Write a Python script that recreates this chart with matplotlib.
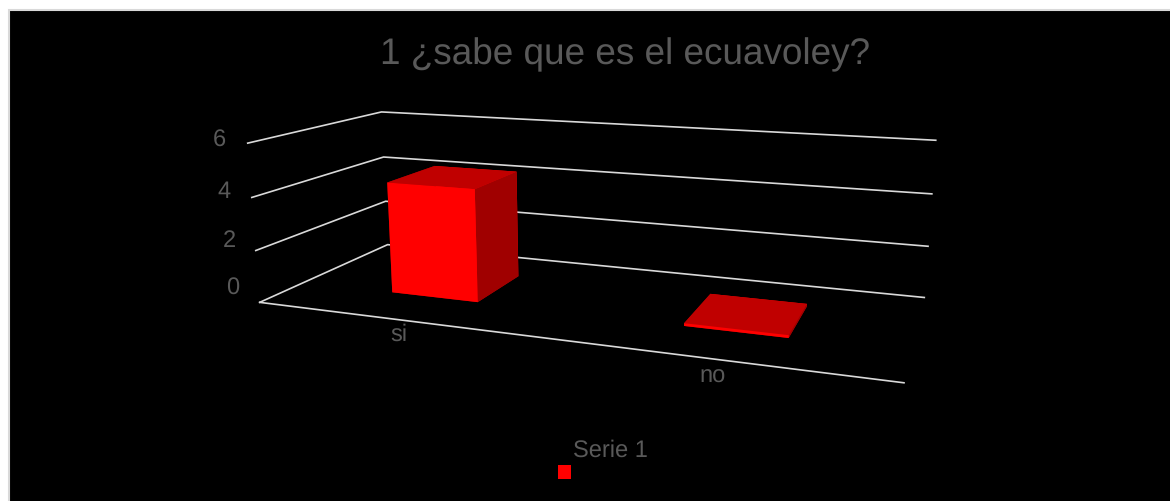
# -*- coding: utf-8 -*-
import matplotlib
matplotlib.use('Agg')
import matplotlib.pyplot as plt
from matplotlib.patches import Rectangle

title = '1 ¿sabe que es el ecuavoley?'
categories = ['si', 'no']
values = [4.3, 0]
series_name = 'Serie 1'
z_ticks = [0, 2, 4, 6]

W, H = 1170, 501
plt.rcParams['font.family'] = ['Liberation Sans', 'DejaVu Sans']
plt.rcParams['text.hinting'] = 'no_hinting'
TEXT = '#595959'
GRID = '#D9D9D9'
FACES = ['#C00000', '#C00000', '#FF0000', '#FF0000', '#A00000', '#A00000']  # bottom, top, front, back, left, right


def px(x, y):
    # picture pixels to figure fractions
    return x / W, 1 - y / H


fig = plt.figure(figsize=(W / 100, H / 100), dpi=100, facecolor='white')
fig.add_artist(Rectangle(px(9, H + 10), 1, 1, transform=fig.transFigure, facecolor='black',
                         edgecolor=GRID, linewidth=1.5, zorder=-1))

ax = fig.add_subplot(projection='3d', computed_zorder=False)
ax.view_init(13.3015, -69.7338, 0.0423)
ax.set_proj_type('persp', focal_length=0.2954)
ax.set_box_aspect((3.8708, 1.5266, 1))
S = 675.2
ax.set_position([(585.01 - S / 2) / W, (H - 231.29 - S / 2) / H, S / W, S / H])
ax.set_axis_off()
ax.patch.set_facecolor('none')

x_lo, x_hi = -0.5, len(categories) - 0.5
# gridlines on the left and back walls
for z in z_ticks:
    ax.plot([x_lo, x_lo, x_hi], [0, 1, 1], [z, z, z], color=GRID, lw=1.2, clip_on=False, zorder=1)
ax.plot([x_lo, x_hi], [0, 0], [0, 0], color=GRID, lw=1.2, clip_on=False, zorder=1)

bar_w, y0, y1 = 0.3141, 0.3083, 0.7113
for i, v in enumerate(values):
    # a zero bar still shows as a thin slab
    bar = ax.bar3d(i - bar_w / 2, y0, 0, bar_w, y1 - y0, max(v, 0.1), color=FACES, shade=False,
                   linewidth=0, zorder=2)
    bar.set_clip_on(False)

ax.set_xlim(x_lo, x_hi)
ax.set_ylim(0, 1)
ax.set_zlim(0, 6)

fig.text(*px(625, 55), title, color=TEXT, fontsize=26.6, ha='center', va='center')
for tick, x, y in zip(z_ticks, [233, 229, 224, 219], [289, 241, 192, 141]):
    fig.text(*px(x, y), str(tick), color=TEXT, fontsize=17, ha='center', va='center')
for name, x, y in zip(categories, [399, 713], [335, 377]):
    fig.text(*px(x, y), name, color=TEXT, fontsize=17, ha='center', va='center')

fig.text(*px(610, 451), series_name, color=TEXT, fontsize=17, ha='center', va='center')
fig.add_artist(Rectangle(px(558, 479), 13 / W, 14 / H, transform=fig.transFigure, facecolor='#FF0000',
                         edgecolor='none'))

fig.savefig('out.png', dpi=100, facecolor='white')
